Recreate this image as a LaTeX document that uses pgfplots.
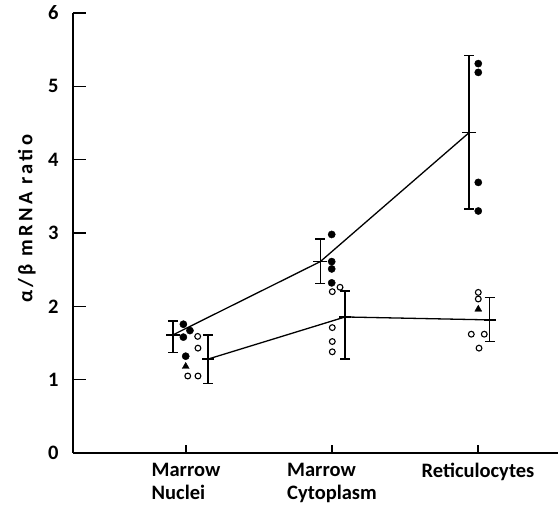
\documentclass[border=0pt]{standalone}
\usepackage{fontspec}
\setmainfont{Carlito}
\usepackage{pgfplots}
\pgfplotsset{compat=1.18}

\begin{document}
\begin{tikzpicture}
\useasboundingbox (-73pt,-53pt) rectangle (485pt,453pt);
\begin{axis}[
  at={(0,0)}, anchor=south west,
  scale only axis, width=485pt, height=440pt,
  xmin=-0.774, xmax=2.548, ymin=0, ymax=6,
  axis x line*=bottom, axis y line*=left,
  axis line style={line width=1.6pt},
  xtick={0,1,2},
  xticklabels={{Marrow\\Nuclei},{Marrow\\Cytoplasm},{Reticulocytes}},
  ytick={0,1,2,3,4,5,6},
  tick align=inside,
  major tick length=13pt,
  xtick style={/pgfplots/major tick length=8pt},
  tick style={line width=1.2pt, black},
  /pgf/number format/assume math mode=true,
  ticklabel style={font=\bfseries\fontsize{20.5}{22.5}\selectfont},
  xticklabel style={align=left, yshift=-7pt},
  yticklabel style={xshift=-11pt},
  ylabel={\addfontfeatures{LetterSpace=16}α/β mRNA ratio},
  ylabel style={font=\bfseries\fontsize{20.5}{25}\selectfont, at={(axis description cs:-0.095,0.532)}, anchor=center},
  clip=false,
]
% filled series: mean line with error bars
\addplot[black, line width=1.3pt, mark=-, mark options={line width=1.5pt, mark size=7pt},
  error bars/.cd, y dir=both, y explicit, error mark=|,
  error bar style={line width=1.5pt},
  error mark options={line width=1.5pt, mark size=5pt}]
  coordinates {(-0.09,1.61) += (0,0.19) -= (0,0.24)
               (0.92,2.61) += (0,0.31) -= (0,0.30)
               (1.94,4.37) += (0,1.05) -= (0,1.04)};
% open series: mean line with error bars
\addplot[black, line width=1.3pt, mark=-, mark options={line width=1.5pt, mark size=6pt},
  error bars/.cd, y dir=both, y explicit, error mark=|,
  error bar style={line width=1.5pt},
  error mark options={line width=1.5pt, mark size=5pt}]
  coordinates {(0.15,1.28) += (0,0.33) -= (0,0.33)
               (1.09,1.855) += (0,0.355) -= (0,0.575)
               (2.08,1.815) += (0,0.305) -= (0,0.295)};
% individual values
\addplot[only marks, mark=*, mark size=3.6pt, black] coordinates {
  (-0.018,1.756) (0.027,1.67) (-0.018,1.58) (-0.002,1.32)
  (0.998,2.98) (0.998,2.61) (0.998,2.51) (0.998,2.32)
  (2.002,5.31) (2.002,5.19) (2.002,3.69) (2.002,3.30)};
\addplot[only marks, mark=o, mark size=2.9pt, line width=1.1pt, black] coordinates {
  (0.08,1.59) (0.082,1.43) (0.012,1.05) (0.082,1.05)
  (1.055,2.26) (1.002,2.20) (1.002,1.71) (1.002,1.52) (1.002,1.38)
  (2.002,2.19) (2.002,2.10) (1.954,1.62) (2.043,1.62) (2.007,1.43)};
\addplot[only marks, mark=triangle*, mark size=4pt, black] coordinates {
  (-0.002,1.18) (2.002,1.96)};
\end{axis}
\end{tikzpicture}
\end{document}
